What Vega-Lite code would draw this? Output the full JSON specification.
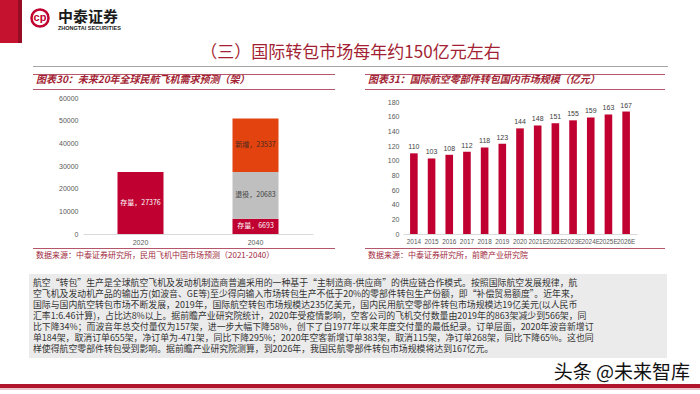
{
  "$schema": "https://vega.github.io/schema/vega-lite/v6.json",
  "padding": 0,
  "spacing": 0,
  "config": {
    "view": {"stroke": null},
    "font": "Noto Sans CJK SC",
    "axis": {"labelFont": "Liberation Sans", "labelFontSize": 7, "labelColor": "#595959", "ticks": false, "grid": false, "title": null},
    "title": {"font": "Noto Sans CJK SC"}
  },
  "vconcat": [
    {
      "hconcat": [
        {"width": 18, "height": 43, "data": {"values": [{}]}, "mark": {"type": "point", "opacity": 0, "size": 0}, "view": {"fill": "#c4122f", "stroke": null}},
        {"width": 4, "height": 43, "data": {"values": [{}]}, "mark": {"type": "point", "opacity": 0, "size": 0}, "view": {"fill": "#960c22", "stroke": null}},
        {
          "width": 36, "height": 36,
          "data": {"values": [{}]},
          "layer": [
            {"mark": {"type": "point", "shape": "circle", "size": 290, "filled": false, "fill": "transparent", "stroke": "#c00030", "strokeWidth": 2.5, "opacity": 1}},
            {"mark": {"type": "text", "text": "cp", "fontSize": 11, "fontWeight": "bold", "color": "#c00030", "font": "Liberation Sans"}}
          ]
        },
        {
          "width": 80, "height": 8,
          "data": {"values": [{}]},
          "mark": {"type": "point", "opacity": 0, "size": 0},
          "title": {"text": "中泰证券", "subtitle": "ZHONGTAI SECURITIES", "orient": "bottom", "anchor": "start", "offset": 2, "fontSize": 15, "fontWeight": "bold", "color": "#1a1a1a", "subtitleFontSize": 5.5, "subtitleFontWeight": "bold", "subtitleColor": "#1a1a1a", "subtitlePadding": 1, "subtitleFont": "Liberation Sans"}
        },
        {
          "width": 425, "height": 40,
          "data": {"values": [{}]},
          "mark": {"type": "point", "opacity": 0, "size": 0},
          "title": {"text": "（三）国际转包市场每年约150亿元左右", "orient": "bottom", "anchor": "middle", "offset": 5, "fontSize": 17, "fontWeight": "normal", "color": "#a31f34"}
        },
        {"width": 137, "height": 66, "data": {"values": [{}]}, "mark": {"type": "point", "opacity": 0, "size": 0}}
      ],
      "spacing": 0,
      "bounds": "flush"
    },
    {
      "hconcat": [
        {"width": 33, "height": 1, "data": {"values": [{}]}, "mark": {"type": "point", "opacity": 0, "size": 0}},
        {"width": 635, "height": 1, "data": {"values": [{}]}, "mark": {"type": "point", "opacity": 0, "size": 0}, "view": {"fill": "#a6a6a6", "stroke": null}},
        {"width": 32, "height": 1, "data": {"values": [{}]}, "mark": {"type": "point", "opacity": 0, "size": 0}}
      ],
      "spacing": 0,
      "bounds": "flush"
    },
    {
      "hconcat": [
        {"width": 33, "height": 1, "data": {"values": [{}]}, "mark": {"type": "point", "opacity": 0, "size": 0}},
        {
          "vconcat": [
            {"width": 302, "height": 7, "data": {"values": [{}]}, "mark": {"type": "point", "opacity": 0, "size": 0}},
            {"width": 302, "height": 1, "data": {"values": [{}]}, "mark": {"type": "point", "opacity": 0, "size": 0}, "view": {"fill": "#b5566a", "stroke": null}},
            {
              "width": 302, "height": 1, "data": {"values": [{}]}, "mark": {"type": "point", "opacity": 0, "size": 0}, "view": {"fill": "#b5566a", "stroke": null},
              "title": {"text": "图表30：未来20年全球民航飞机需求预测（架）", "orient": "top", "anchor": "start", "dx": 3, "offset": 4, "fontSize": 10, "fontWeight": "bold", "fontStyle": "italic", "color": "#a31f34"}
            },
            {"width": 302, "height": 4, "data": {"values": [{}]}, "mark": {"type": "point", "opacity": 0, "size": 0}},
            {
              "hconcat": [
                {"width": 50, "height": 136, "data": {"values": [{}]}, "mark": {"type": "point", "opacity": 0, "size": 0}},
                {
                  "width": 230, "height": 136,
                  "data": {"values": [
                    {"year": "2020", "type": "存量", "value": 27376, "label": "存量，27376"},
                    {"year": "2040", "type": "存量", "value": 6693, "label": "存量，6693"},
                    {"year": "2040", "type": "退役", "value": 20683, "label": "退役，20683"},
                    {"year": "2040", "type": "新增", "value": 23537, "label": "新增，23537"}
                  ]},
                  "encoding": {
                    "x": {"field": "year", "type": "ordinal", "scale": {"paddingInner": 0.6, "paddingOuter": 0.3}, "axis": {"labelAngle": 0, "domainColor": "#d9d9d9", "labelPadding": 4}},
                    "y": {"field": "value", "type": "quantitative", "stack": "zero", "scale": {"domain": [0, 60000]}, "axis": {"values": [0, 10000, 20000, 30000, 40000, 50000, 60000], "format": "d", "domain": false, "labelPadding": 5}},
                    "order": {"field": "value", "type": "quantitative", "sort": "ascending"}
                  },
                  "layer": [
                    {
                      "mark": {"type": "bar"},
                      "encoding": {
                        "color": {"field": "type", "type": "nominal", "scale": {"domain": ["存量", "退役", "新增"], "range": ["#c00030", "#bfbfbf", "#e2430f"]}, "legend": null}
                      }
                    },
                    {
                      "mark": {"type": "text", "fontSize": 7},
                      "encoding": {
                        "y": {"field": "value", "type": "quantitative", "stack": "zero", "bandPosition": 0.5, "scale": {"domain": [0, 60000]}, "axis": {"values": [0, 10000, 20000, 30000, 40000, 50000, 60000], "format": "d", "domain": false, "labelPadding": 5}},
                        "text": {"field": "label"},
                        "fill": {"field": "type", "type": "nominal", "scale": {"domain": ["存量", "退役", "新增"], "range": ["#ffffff", "#404040", "#4a2a20"]}, "legend": null}
                      }
                    }
                  ]
                },
                {"width": 22, "height": 136, "data": {"values": [{}]}, "mark": {"type": "point", "opacity": 0, "size": 0}}
              ],
              "spacing": 0,
              "bounds": "flush"
            },
            {"width": 302, "height": 3, "data": {"values": [{}]}, "mark": {"type": "point", "opacity": 0, "size": 0}},
            {
              "width": 302, "height": 1, "data": {"values": [{}]}, "mark": {"type": "point", "opacity": 0, "size": 0}, "view": {"fill": "#b5566a", "stroke": null},
              "title": {"text": "数据来源：中泰证券研究所，民用飞机中国市场预测（2021-2040）", "orient": "bottom", "anchor": "start", "dx": 3, "offset": 3, "fontSize": 8, "fontWeight": "normal", "color": "#a0283c"}
            }
          ],
          "spacing": 0
        },
        {"width": 30, "height": 1, "data": {"values": [{}]}, "mark": {"type": "point", "opacity": 0, "size": 0}},
        {
          "vconcat": [
            {"width": 300, "height": 7, "data": {"values": [{}]}, "mark": {"type": "point", "opacity": 0, "size": 0}},
            {"width": 300, "height": 1, "data": {"values": [{}]}, "mark": {"type": "point", "opacity": 0, "size": 0}, "view": {"fill": "#b5566a", "stroke": null}},
            {
              "width": 300, "height": 1, "data": {"values": [{}]}, "mark": {"type": "point", "opacity": 0, "size": 0}, "view": {"fill": "#b5566a", "stroke": null},
              "title": {"text": "图表31：国际航空零部件转包国内市场规模（亿元）", "orient": "top", "anchor": "start", "dx": 3, "offset": 4, "fontSize": 10, "fontWeight": "bold", "fontStyle": "italic", "color": "#a31f34"}
            },
            {"width": 300, "height": 8, "data": {"values": [{}]}, "mark": {"type": "point", "opacity": 0, "size": 0}},
            {
              "hconcat": [
                {"width": 38, "height": 132, "data": {"values": [{}]}, "mark": {"type": "point", "opacity": 0, "size": 0}},
                {
                  "width": 234, "height": 132,
                  "data": {"values": [
                    {"year": "2014", "value": 110},
                    {"year": "2015", "value": 103},
                    {"year": "2016", "value": 108},
                    {"year": "2017", "value": 112},
                    {"year": "2018", "value": 118},
                    {"year": "2019", "value": 123},
                    {"year": "2020", "value": 144},
                    {"year": "2021E", "value": 148},
                    {"year": "2022E", "value": 151},
                    {"year": "2023E", "value": 155},
                    {"year": "2024E", "value": 159},
                    {"year": "2025E", "value": 163},
                    {"year": "2026E", "value": 167}
                  ]},
                  "encoding": {
                    "x": {"field": "year", "type": "ordinal", "scale": {"paddingInner": 0.57, "paddingOuter": 0.4}, "axis": {"labelAngle": 0, "domainColor": "#d9d9d9", "labelPadding": 4, "labelOverlap": false, "labelFontSize": 6.4}},
                    "y": {"field": "value", "type": "quantitative", "scale": {"domain": [0, 180]}, "axis": {"values": [0, 20, 40, 60, 80, 100, 120, 140, 160, 180], "domain": false, "labelPadding": 4}}
                  },
                  "layer": [
                    {"mark": {"type": "bar", "color": "#c00030"}},
                    {"mark": {"type": "text", "fontSize": 7, "dy": -6, "color": "#404040", "font": "Liberation Sans"}, "encoding": {"text": {"field": "value", "type": "quantitative"}}}
                  ]
                },
                {"width": 28, "height": 132, "data": {"values": [{}]}, "mark": {"type": "point", "opacity": 0, "size": 0}}
              ],
              "spacing": 0,
              "bounds": "flush"
            },
            {"width": 300, "height": 3, "data": {"values": [{}]}, "mark": {"type": "point", "opacity": 0, "size": 0}},
            {
              "width": 300, "height": 1, "data": {"values": [{}]}, "mark": {"type": "point", "opacity": 0, "size": 0}, "view": {"fill": "#b5566a", "stroke": null},
              "title": {"text": "数据来源：中泰证券研究所，前瞻产业研究院", "orient": "bottom", "anchor": "start", "dx": 3, "offset": 3, "fontSize": 8, "fontWeight": "normal", "color": "#a0283c"}
            }
          ],
          "spacing": 0
        },
        {"width": 35, "height": 1, "data": {"values": [{}]}, "mark": {"type": "point", "opacity": 0, "size": 0}}
      ],
      "spacing": 0
    },
    {"width": 700, "height": 14, "data": {"values": [{}]}, "mark": {"type": "point", "opacity": 0, "size": 0}},
    {
      "hconcat": [
        {"width": 29, "height": 84, "data": {"values": [{}]}, "mark": {"type": "point", "opacity": 0, "size": 0}},
        {
          "width": 638, "height": 84,
          "view": {"fill": "#ebebeb", "stroke": null},
          "data": {"values": [
            {"line": 1, "text": "航空“转包”生产是全球航空飞机及发动机制造商普遍采用的一种基于“主制造商-供应商”的供应链合作模式。按照国际航空发展规律，航"},
            {"line": 2, "text": "空飞机及发动机产品的输出方(如波音、GE等)至少得向输入市场转包生产不低于20%的零部件转包生产份额，即“补偿贸易额度”。近年来，"},
            {"line": 3, "text": "国际与国内航空转包市场不断发展，2019年，国际航空转包市场规模达235亿美元，国内民用航空零部件转包市场规模达19亿美元(以人民币"},
            {"line": 4, "text": "汇率1:6.46计算)，占比达8%以上。据前瞻产业研究院统计，2020年受疫情影响，空客公司的飞机交付数量由2019年的863架减少到566架，同"},
            {"line": 5, "text": "比下降34%；而波音年总交付量仅为157架，进一步大幅下降58%，创下了自1977年以来年度交付量的最低纪录。订单层面，2020年波音新增订"},
            {"line": 6, "text": "单184架，取消订单655架，净订单为-471架，同比下降295%；2020年空客新增订单383架，取消115架，净订单268架，同比下降65%。这也同"},
            {"line": 7, "text": "样使得航空零部件转包受到影响。据前瞻产业研究院测算，到2026年，我国民航零部件转包市场规模将达到167亿元。"}
          ]},
          "mark": {"type": "text", "align": "left", "baseline": "middle", "fontSize": 8.9, "color": "#333333", "dx": 4},
          "encoding": {
            "y": {"field": "line", "type": "ordinal", "scale": {"type": "point", "range": [9, 75], "padding": 0}, "axis": null},
            "x": {"datum": 0, "type": "quantitative", "scale": {"domain": [0, 1]}, "axis": null},
            "text": {"field": "text"}
          }
        },
        {"width": 33, "height": 84, "data": {"values": [{}]}, "mark": {"type": "point", "opacity": 0, "size": 0}}
      ],
      "spacing": 0,
      "bounds": "flush"
    },
    {
      "width": 700, "height": 26, "data": {"values": [{}]}, "mark": {"type": "point", "opacity": 0, "size": 0},
      "title": {"text": "头条 @未来智库", "orient": "bottom", "anchor": "end", "dx": -10, "offset": -20, "fontSize": 19, "fontWeight": "normal", "color": "#111111"}
    },
    {"width": 700, "height": 4, "data": {"values": [{}]}, "mark": {"type": "point", "opacity": 0, "size": 0}, "view": {"fill": "#b0152d", "stroke": null}},
    {"width": 700, "height": 2, "data": {"values": [{}]}, "mark": {"type": "point", "opacity": 0, "size": 0}, "view": {"fill": "#e8c3ca", "stroke": null}},
    {"width": 700, "height": 5, "data": {"values": [{}]}, "mark": {"type": "point", "opacity": 0, "size": 0}}
  ]
}
